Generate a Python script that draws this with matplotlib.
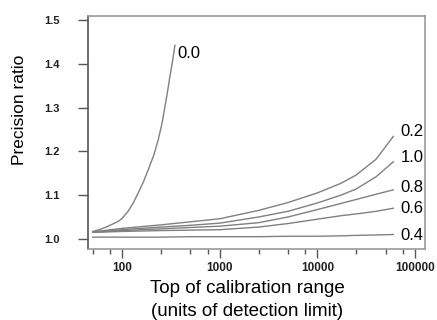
import numpy as np
import matplotlib
matplotlib.use("Agg")
import matplotlib.pyplot as plt
from matplotlib.ticker import FixedLocator, NullFormatter

plt.rcParams['font.family'] = ['Liberation Sans', 'DejaVu Sans']

# --- data ---
x_zero = [50, 60, 70, 80, 91, 100, 115, 130, 146, 165, 185, 210, 234, 255, 274, 290, 308, 328, 347]
y_zero = [1.017, 1.022, 1.028, 1.034, 1.040, 1.047, 1.063, 1.082, 1.105, 1.130, 1.158,
          1.190, 1.226, 1.262, 1.301, 1.333, 1.370, 1.405, 1.442]

x_top = [50, 100, 250, 500, 1000, 2500, 5000, 10000, 17500, 25000, 40000, 60000]
y_02 = [1.016, 1.024, 1.032, 1.039, 1.046, 1.065, 1.083, 1.105, 1.127, 1.146, 1.182, 1.234]
y_10 = [1.015, 1.021, 1.027, 1.031, 1.036, 1.050, 1.063, 1.082, 1.100, 1.114, 1.142, 1.176]
y_08 = [1.015, 1.019, 1.023, 1.026, 1.029, 1.037, 1.050, 1.067, 1.081, 1.090, 1.102, 1.112]
y_06 = [1.015, 1.017, 1.019, 1.020, 1.021, 1.027, 1.035, 1.045, 1.053, 1.057, 1.063, 1.070]
y_04 = [1.004, 1.004, 1.004, 1.005, 1.005, 1.005, 1.006, 1.006, 1.007, 1.008, 1.009, 1.010]

series_labels = ["0.2", "1.0", "0.8", "0.6", "0.4"]
label_y = [1.245, 1.187, 1.117, 1.069, 1.008]

x_major = [100, 1000, 10000, 100000]
x_minor = [50, 75, 250, 500, 750, 2500, 5000, 7500, 25000, 50000, 75000]
y_ticks = [1.0, 1.1, 1.2, 1.3, 1.4, 1.5]

line_col = "#808080"

fig = plt.figure(figsize=(4.37, 3.2), dpi=100)
ax = fig.add_axes([0.201, 0.222, 0.7715, 0.728])

ax.plot(x_zero, y_zero, color=line_col, lw=1.0)
for ys in [y_02, y_10, y_08, y_06, y_04]:
    ax.plot(x_top, ys, color=line_col, lw=1.0)

ax.text(372, 1.424, "0.0", fontsize=12, ha="left", va="center")
for lab, yy in zip(series_labels, label_y):
    ax.text(71000, yy, lab, fontsize=12, ha="left", va="center")

ax.set_xscale("log")
ax.set_xlim(44.5, 126700)
ax.set_ylim(0.977, 1.509)

ax.xaxis.set_major_locator(FixedLocator(x_major))
ax.xaxis.set_minor_locator(FixedLocator(x_minor))
ax.xaxis.set_minor_formatter(NullFormatter())
ax.set_xticklabels([str(v) for v in x_major])
ax.set_yticks(y_ticks)
ax.set_yticklabels([f"{v:.1f}" for v in y_ticks])

for lab in ax.get_xticklabels():
    lab.set_fontweight("bold")
    lab.set_fontsize(8.5)
    lab.set_color("#222222")
for lab in ax.get_yticklabels():
    lab.set_fontweight("bold")
    lab.set_fontsize(8)
    lab.set_color("#222222")

ax.tick_params(axis="x", which="major", length=6.5, width=1, color="#555555", pad=3)
ax.tick_params(axis="x", which="minor", length=3.6, width=1, color="#555555")
ax.tick_params(axis="y", which="major", length=7, width=1, color="#555555", pad=13.5)

for side in ["top", "right", "bottom"]:
    ax.spines[side].set_color("#999999")
    ax.spines[side].set_linewidth(1.2)
ax.spines["left"].set_color("#555555")
ax.spines["left"].set_linewidth(1.2)

ax.set_ylabel("Precision ratio", fontsize=12.5)
ax.yaxis.set_label_coords(-0.181, 0.597)
ax.set_xlabel("Top of calibration range\n(units of detection limit)", fontsize=13.5,
              linespacing=1.45)
ax.xaxis.set_label_coords(0.473, -0.135)

fig.savefig("out.png", dpi=100)
